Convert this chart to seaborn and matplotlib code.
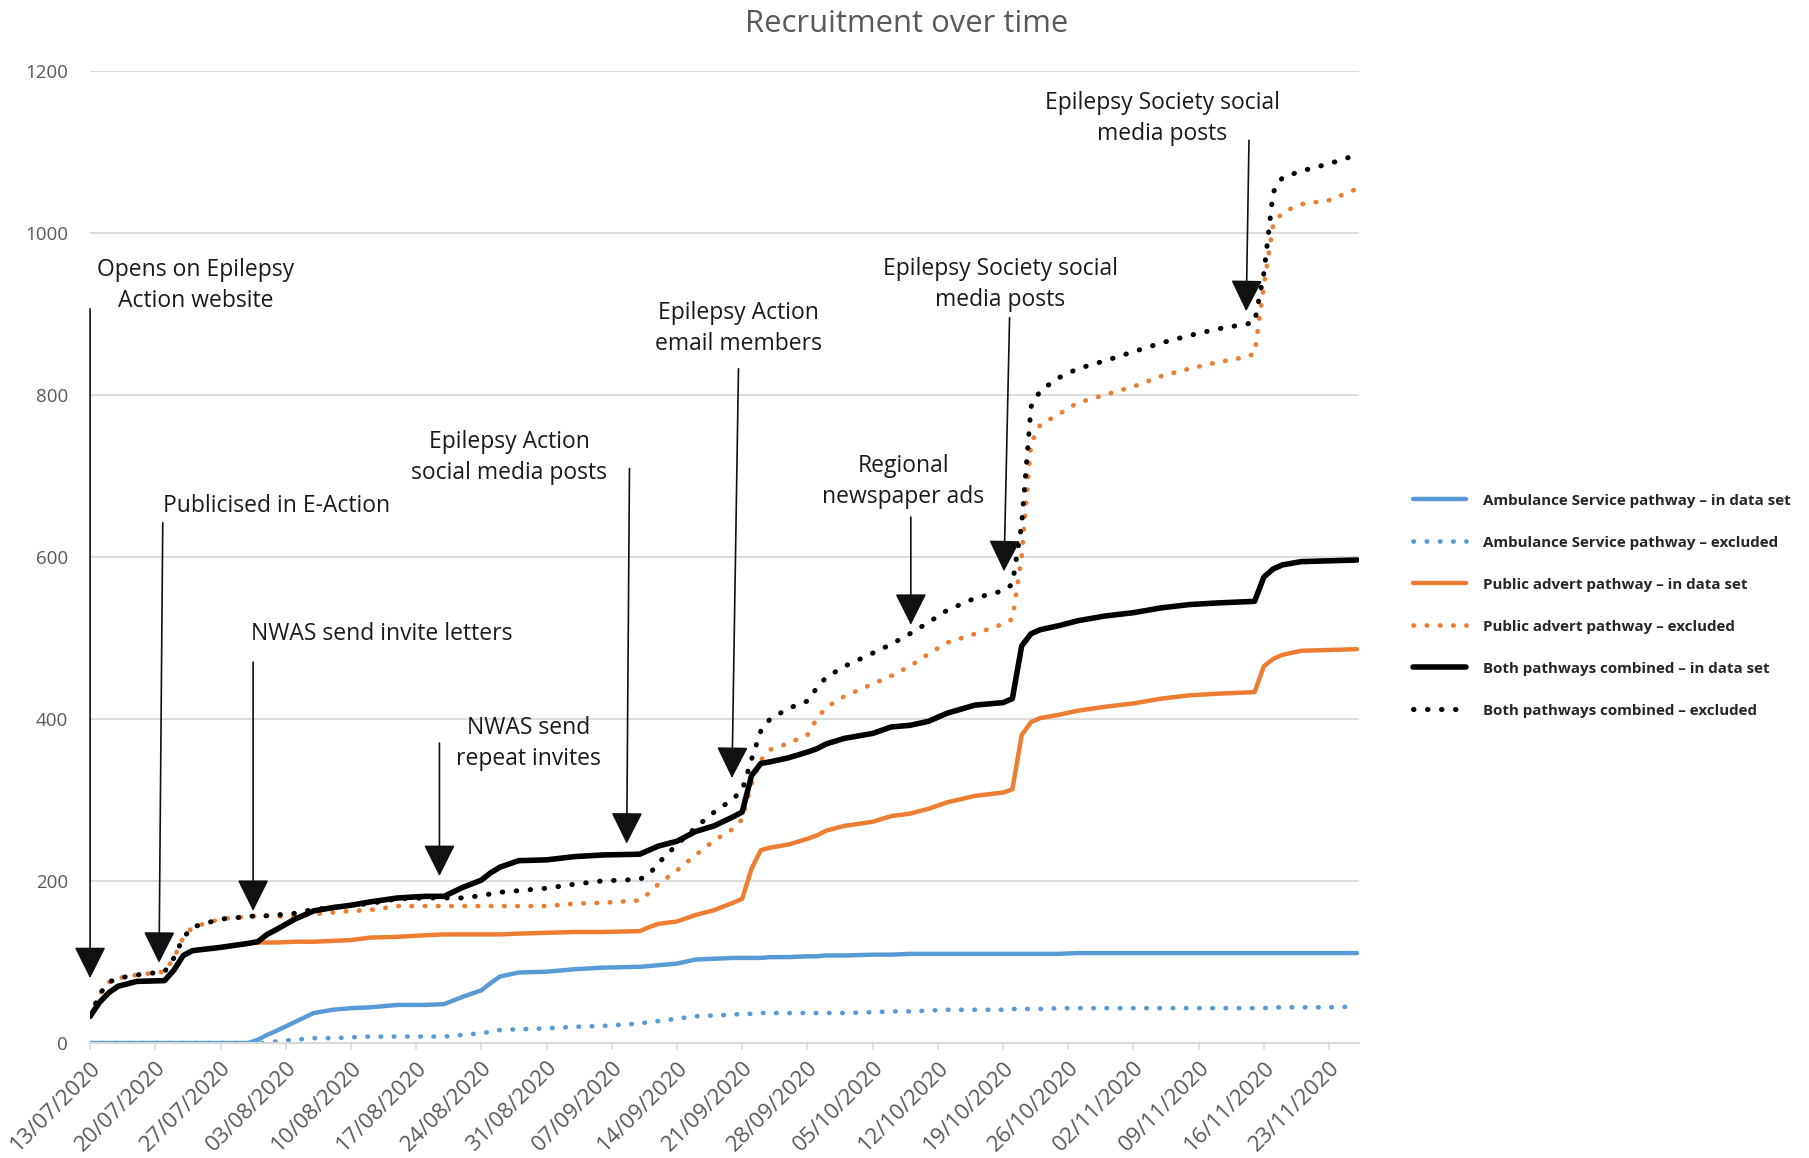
import pandas as pd
import matplotlib
matplotlib.use("Agg")
import matplotlib.pyplot as plt
import matplotlib.dates as mdates
import seaborn as sns

sns.set_style("white")
plt.rcParams["font.family"] = ["Open Sans", "DejaVu Sans"]

# days since the study opened (13/07/2020)
start = pd.Timestamp("2020-07-13")
days = [0, 1, 2, 3, 5, 8, 9, 10, 11, 14, 17, 18, 19, 20, 22, 24, 26, 28, 30, 33,
        36, 38, 40, 42, 43, 44, 46, 49, 52, 55, 59, 60, 61, 63, 65, 67, 69, 70, 71, 72,
        73, 75, 77, 78, 79, 81, 84, 86, 88, 90, 92, 95, 98, 99, 100, 101, 102, 104, 106, 109,
        112, 115, 118, 121, 123, 125, 126, 127, 128, 130, 133, 136]

amb_in = [0, 0, 0, 0, 0, 0, 0, 0, 0, 0, 0, 4, 10, 15, 26, 37, 41, 43, 44, 47,
          47, 48, 57, 65, 74, 82, 87, 88, 91, 93, 94, 95, 96, 98, 103, 104, 105, 105, 105, 105,
          106, 106, 107, 107, 108, 108, 109, 109, 110, 110, 110, 110, 110, 110, 110, 110, 110, 110, 111, 111,
          111, 111, 111, 111, 111, 111, 111, 111, 111, 111, 111, 111]

amb_ex = [0, 0, 0, 0, 0, 0, 0, 0, 0, 0, 0, 0, 0, 2, 4, 6, 6, 7, 8, 8,
          8, 8, 10, 12, 14, 16, 17, 18, 20, 21, 24, 26, 27, 30, 33, 34, 35, 36, 36, 37,
          37, 37, 37, 37, 37, 37, 38, 39, 39, 40, 41, 41, 41, 42, 42, 42, 42, 43, 43, 43,
          43, 43, 43, 43, 43, 43, 43, 44, 44, 44, 44, 45]

pub_in = [33, 50, 62, 70, 76, 77, 90, 108, 114, 118, 123, 124, 124, 124, 125, 125, 126, 127, 130, 131,
          133, 134, 134, 134, 134, 134, 135, 136, 137, 137, 138, 143, 147, 150, 158, 164, 173, 178, 215, 238,
          241, 245, 252, 256, 262, 268, 273, 280, 283, 289, 297, 305, 309, 313, 380, 396, 401, 405, 410, 415,
          419, 425, 429, 431, 432, 433, 465, 474, 479, 484, 485, 486]

pub_ex = [33, 60, 75, 80, 84, 88, 105, 130, 143, 153, 156, 157, 157, 156, 156, 159, 161, 163, 164, 169,
          169, 169, 169, 169, 169, 169, 169, 169, 172, 173, 176, 185, 196, 213, 232, 250, 264, 276, 320, 349,
          362, 370, 380, 400, 414, 428, 443, 453, 465, 480, 494, 505, 517, 523, 600, 740, 763, 776, 790, 800,
          810, 823, 832, 840, 844, 850, 935, 1010, 1025, 1035, 1040, 1054]

both_in = [33, 50, 62, 70, 76, 77, 90, 108, 114, 118, 123, 125, 134, 140, 153, 163, 167, 170, 174, 179,
           181, 181, 192, 201, 210, 217, 225, 226, 230, 232, 233, 238, 243, 249, 261, 268, 279, 285, 330, 345,
           347, 352, 359, 363, 369, 376, 382, 390, 392, 397, 407, 417, 420, 425, 490, 505, 510, 515, 521, 527,
           531, 537, 541, 543, 544, 545, 575, 585, 590, 594, 595, 596]

both_ex = [33, 60, 75, 80, 84, 88, 105, 130, 143, 153, 156, 157, 157, 158, 160, 165, 167, 170, 172, 178,
           179, 179, 179, 182, 184, 186, 188, 191, 196, 200, 202, 208, 222, 245, 266, 285, 301, 312, 350, 385,
           400, 413, 422, 438, 451, 465, 481, 492, 505, 519, 534, 549, 558, 566, 640, 785, 805, 821, 832, 842,
           853, 864, 873, 881, 885, 889, 950, 1050, 1068, 1076, 1085, 1096]

labels = ["Ambulance Service pathway \u2013 in data set",
          "Ambulance Service pathway \u2013 excluded",
          "Public advert pathway \u2013 in data set",
          "Public advert pathway \u2013 excluded",
          "Both pathways combined \u2013 in data set",
          "Both pathways combined \u2013 excluded"]

# (text, text day, text value, ha, arrow start day, start value, tip day, tip value)
events = [
    ("Opens on Epilepsy\nAction website", 11.3, 935, "center", 0, 906, 0, 80),
    ("Publicised in E-Action", 7.8, 663, "left", 7.8, 642, 7.4, 99),
    ("NWAS send invite letters", 17.3, 505, "left", 17.5, 470, 17.5, 163),
    ("NWAS send\nrepeat invites", 47.1, 370, "center", 37.5, 370, 37.5, 206),
    ("Epilepsy Action\nsocial media posts", 45.0, 722, "center", 57.9, 709, 57.6, 246),
    ("Epilepsy Action\nemail members", 69.6, 882, "center", 69.6, 832, 68.9, 327),
    ("Regional\nnewspaper ads", 87.3, 693, "center", 88.1, 649, 88.1, 516),
    ("Epilepsy Society social\nmedia posts", 97.7, 936, "center", 98.7, 895, 98.1, 582),
    ("Epilepsy Society social\nmedia posts", 115.1, 1141, "center", 124.4, 1114, 124.1, 903),
]

dates = start + pd.to_timedelta(days, unit="D")
df = pd.DataFrame({"date": dates,
                   labels[0]: amb_in, labels[1]: amb_ex,
                   labels[2]: pub_in, labels[3]: pub_ex,
                   labels[4]: both_in, labels[5]: both_ex})

blue = "#5B9BD5"
orange = "#ED7D31"
black = "#000000"
dots = (0, (0.1, 2.7))
styles = [
    (blue, "-", 3.2),
    (blue, dots, 3.4),
    (orange, "-", 3.2),
    (orange, dots, 3.4),
    (black, "-", 4.0),
    (black, dots, 3.6),
]

fig = plt.figure(figsize=(18.09, 11.58), dpi=100)
ax = fig.add_axes([0.0498, 0.0993, 0.7014, 0.8398])

for lab, (col, ls, lw) in zip(labels, styles):
    sns.lineplot(data=df, x="date", y=lab, ax=ax, color=col, linestyle=ls,
                 lw=lw, dash_capstyle="round", label=lab, legend=False)

def day(d):
    return start + pd.Timedelta(days=d)

for txt, tx, ty, ha, ax0, ay0, ax1, ay1 in events:
    ax.annotate("", xy=(day(ax1), ay1), xytext=(day(ax0), ay0),
                arrowprops=dict(arrowstyle="-|>,head_length=1.0,head_width=0.5",
                                color="#111111", lw=1.2, shrinkA=0, shrinkB=0,
                                mutation_scale=20),
                annotation_clip=False)
    ax.text(day(tx), ty, txt, ha=ha, va="center", fontsize=16.5,
            color="#1a1a1a", linespacing=1.4)

ax.set_xlim(day(0), day(136.2))
ax.set_ylim(0, 1200)
ax.set_yticks(range(0, 1201, 200))
ax.xaxis.set_major_locator(mdates.WeekdayLocator(byweekday=mdates.MO))
ax.xaxis.set_major_formatter(mdates.DateFormatter("%d/%m/%Y"))
plt.setp(ax.get_xticklabels(), rotation=45, ha="right", rotation_mode="anchor")

ax.set_xlabel("")
ax.set_ylabel("")
ax.yaxis.grid(True, color="#D9D9D9", lw=1.3)
ax.set_axisbelow(True)
for side in ["left", "right", "top"]:
    ax.spines[side].set_visible(False)
ax.spines["bottom"].set_color("#D9D9D9")
ax.spines["bottom"].set_linewidth(1.5)
ax.tick_params(axis="y", length=0, pad=16, labelsize=13.5, labelcolor="#595959")
ax.tick_params(axis="x", length=5, width=1.2, color="#D9D9D9", pad=5,
               labelsize=16, labelcolor="#595959", bottom=True)

fig.text(0.501, 0.979, "Recruitment over time", ha="center", va="center",
         fontsize=22.3, color="#595959")

handles, labs = ax.get_legend_handles_labels()
leg = fig.legend(handles, labs, loc="center left", bbox_to_anchor=(0.781, 0.477),
                 frameon=False, fontsize=10.9, labelspacing=1.85, handlelength=3.5,
                 handletextpad=1.15, borderpad=0, borderaxespad=0)
for t in leg.get_texts():
    t.set_fontweight("bold")
    t.set_color("#262626")

fig.savefig("out.png", dpi=100)
